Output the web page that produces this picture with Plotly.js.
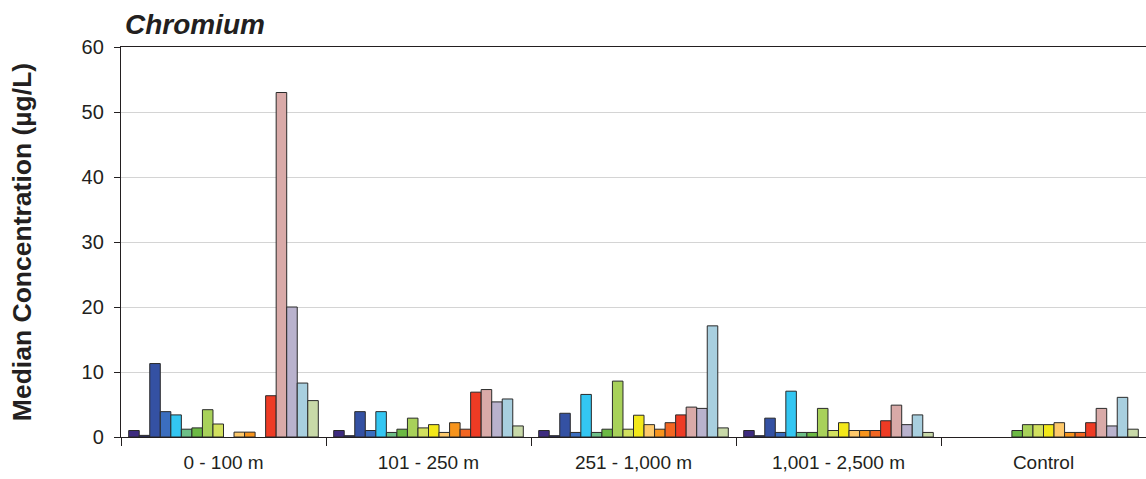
<!DOCTYPE html>
<html>
<head>
<meta charset="utf-8">
<script src="https://cdn.plot.ly/plotly-3.0.1.min.js"></script>
<style>html,body{margin:0;padding:0;background:#fff;}#chart{width:1146px;height:479px;}</style>
</head>
<body>
<div id="chart"></div>
<script>
const categories = ["0 - 100 m", "101 - 250 m", "251 - 1,000 m", "1,001 - 2,500 m", "Control"];
const seriesNames = ["Site 1","Site 2","Site 3","Site 4","Site 5","Site 6","Site 7","Site 8","Site 9",
  "Site 10","Site 11","Site 12","Site 13","Site 14","Site 15","Site 16","Site 17","Site 18"];
const seriesColors = ["#3d2b7f","#2b2f6e","#3451a3","#3b6ebf","#33c6f2","#6dbf87","#6cb944","#a8d15a","#d2e05f",
  "#f3e81a","#fec96b","#f7941d","#f26622","#ee3b24","#d9aaa8","#b9b2cd","#a8cfdf","#c8d9a8"];
// values per distance group, one entry per series
const g_0_100     = [1.0, 0.25, 11.3, 3.9, 3.4, 1.2, 1.4, 4.2, 2.0, null, 0.75, 0.75, null, 6.35, 53, 20, 8.3, 5.6];
const g_101_250   = [1.0, 0.2, 3.9, 1.0, 3.9, 0.7, 1.2, 2.9, 1.4, 1.9, 0.7, 2.2, 1.2, 6.9, 7.3, 5.4, 5.85, 1.7];
const g_251_1000  = [1.0, 0.2, 3.65, 0.7, 6.55, 0.7, 1.2, 8.6, 1.2, 3.35, 1.9, 1.2, 2.2, 3.4, 4.6, 4.4, 17.1, 1.4];
const g_1001_2500 = [1.0, 0.2, 2.9, 0.7, 7.05, 0.7, 0.7, 4.4, 1.0, 2.2, 1.0, 1.0, 1.0, 2.5, 4.9, 1.9, 3.4, 0.7];
const g_control   = [null, null, null, null, null, null, 1.0, 1.9, 1.9, 1.9, 2.2, 0.7, 0.7, 2.2, 4.4, 1.7, 6.1, 1.2];
const yTicks = [0, 10, 20, 30, 40, 50, 60];

const groups = [g_0_100, g_101_250, g_251_1000, g_1001_2500, g_control];
const traces = seriesNames.map((name, i) => ({
  type: "bar",
  name: name,
  x: categories,
  y: groups.map(g => g[i]),
  marker: {color: seriesColors[i], line: {color: "#2a2a2a", width: 1}},
  hoverinfo: "x+y+name"
}));

const font = "Liberation Sans, Arial, sans-serif";
const layout = {
  width: 1146, height: 479,
  margin: {l: 121, r: 0, t: 47, b: 42},
  paper_bgcolor: "#fff", plot_bgcolor: "#fff",
  showlegend: false,
  barmode: "group",
  bargap: 0.075,
  bargroupgap: 0,
  title: {
    text: "Chromium",
    font: {family: font, size: 28, color: "#231f20", weight: "bold", style: "italic"},
    xref: "container", x: 125/1146, xanchor: "left",
    yref: "container", y: 1 - 24/479, yanchor: "middle"
  },
  xaxis: {
    type: "category",
    showline: true, linecolor: "#231f20", linewidth: 1.2,
    mirror: true,
    ticks: "outside", tickson: "boundaries", ticklen: 8, tickcolor: "#231f20",
    ticklabelstandoff: 8,
    tickfont: {family: font, size: 19, color: "#231f20"},
    showgrid: false, zeroline: false, fixedrange: true
  },
  yaxis: {
    range: [0, 60],
    tickvals: yTicks,
    showline: true, linecolor: "#231f20", linewidth: 1.2,
    ticks: "outside", ticklen: 6, tickcolor: "#231f20",
    ticklabelstandoff: 6,
    tickfont: {family: font, size: 20, color: "#231f20"},
    showgrid: true, gridcolor: "#d4d4d4", gridwidth: 1,
    zeroline: false, fixedrange: true,
    title: {
      text: "Median Concentration (µg/L)",
      font: {family: font, size: 26.5, color: "#231f20", weight: "bold"},
      standoff: 42
    }
  }
};
Plotly.newPlot("chart", traces, layout, {displayModeBar: false, staticPlot: true});
</script>
</body>
</html>
